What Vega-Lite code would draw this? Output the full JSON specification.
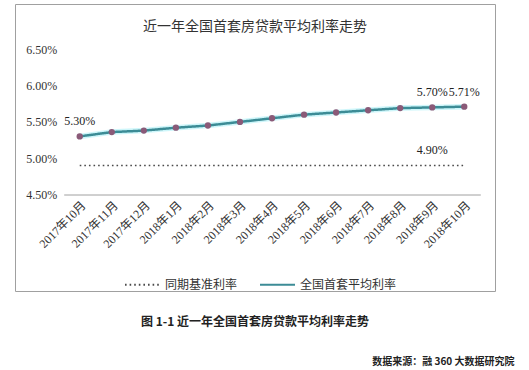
{
  "$schema": "https://vega.github.io/schema/vega-lite/v6.json",
  "background": "white",
  "padding": {"left": 14, "top": 3, "right": 0, "bottom": 0},
  "title": {"text": "数据来源：融 360 大数据研究院", "orient": "bottom", "anchor": "end", "dx": 19, "offset": 29, "font": "Noto Sans CJK SC", "fontSize": 10, "fontWeight": "bold", "color": "#222222"},
  "vconcat": [
    {
      "title": {"text": "图 1-1 近一年全国首套房贷款平均利率走势", "orient": "bottom", "anchor": "middle", "offset": 25, "font": "Noto Sans CJK SC", "fontSize": 12, "fontWeight": "bold", "color": "#222222"},
      "vconcat": [
        {
          "title": {"text": "近一年全国首套房贷款平均利率走势", "orient": "top", "anchor": "middle", "offset": -29.5, "font": "Noto Sans CJK SC", "fontSize": 14, "fontWeight": "normal", "color": "#333333"},
          "width": 480,
          "height": 287,
          "data": {"values": [
            {"month": "2017年10月", "series": "全国首套平均利率", "rate": 0.0530, "label": "5.30%"},
            {"month": "2017年11月", "series": "全国首套平均利率", "rate": 0.0536, "label": null},
            {"month": "2017年12月", "series": "全国首套平均利率", "rate": 0.0538, "label": null},
            {"month": "2018年1月", "series": "全国首套平均利率", "rate": 0.0542, "label": null},
            {"month": "2018年2月", "series": "全国首套平均利率", "rate": 0.0545, "label": null},
            {"month": "2018年3月", "series": "全国首套平均利率", "rate": 0.0550, "label": null},
            {"month": "2018年4月", "series": "全国首套平均利率", "rate": 0.0555, "label": null},
            {"month": "2018年5月", "series": "全国首套平均利率", "rate": 0.0560, "label": null},
            {"month": "2018年6月", "series": "全国首套平均利率", "rate": 0.0563, "label": null},
            {"month": "2018年7月", "series": "全国首套平均利率", "rate": 0.0566, "label": null},
            {"month": "2018年8月", "series": "全国首套平均利率", "rate": 0.0569, "label": null},
            {"month": "2018年9月", "series": "全国首套平均利率", "rate": 0.0570, "label": "5.70%"},
            {"month": "2018年10月", "series": "全国首套平均利率", "rate": 0.0571, "label": "5.71%"},
            {"month": "2017年10月", "series": "同期基准利率", "rate": 0.049, "label": null},
            {"month": "2017年11月", "series": "同期基准利率", "rate": 0.049, "label": null},
            {"month": "2017年12月", "series": "同期基准利率", "rate": 0.049, "label": null},
            {"month": "2018年1月", "series": "同期基准利率", "rate": 0.049, "label": null},
            {"month": "2018年2月", "series": "同期基准利率", "rate": 0.049, "label": null},
            {"month": "2018年3月", "series": "同期基准利率", "rate": 0.049, "label": null},
            {"month": "2018年4月", "series": "同期基准利率", "rate": 0.049, "label": null},
            {"month": "2018年5月", "series": "同期基准利率", "rate": 0.049, "label": null},
            {"month": "2018年6月", "series": "同期基准利率", "rate": 0.049, "label": null},
            {"month": "2018年7月", "series": "同期基准利率", "rate": 0.049, "label": null},
            {"month": "2018年8月", "series": "同期基准利率", "rate": 0.049, "label": null},
            {"month": "2018年9月", "series": "同期基准利率", "rate": 0.049, "label": "4.90%"},
            {"month": "2018年10月", "series": "同期基准利率", "rate": 0.049, "label": null}
          ]},
          "encoding": {
            "x": {"field": "month", "type": "ordinal", "sort": null,
                  "scale": {"type": "point", "range": [48.7, 465.3], "padding": 0.5},
                  "axis": {"title": null, "labelAngle": -45, "labelFont": "Liberation Serif, Noto Sans CJK SC", "labelFontSize": 12, "labelColor": "#333333", "ticks": false, "tickSize": 0, "labelPadding": 5, "domain": true, "domainColor": "#a0a0a0", "domainWidth": 1, "offset": -96.5, "grid": false}},
            "y": {"field": "rate", "type": "quantitative",
                  "scale": {"domain": [0.031708, 0.07124], "nice": false, "zero": false},
                  "axis": {"title": null, "values": [0.045, 0.05, 0.055, 0.06, 0.065], "format": ".2%", "labelFont": "Liberation Serif", "labelFontSize": 12, "labelColor": "#333333", "ticks": false, "tickSize": 0, "labelPadding": 7, "domain": false, "grid": false, "offset": -48.7}}
          },
          "layer": [
            {
              "transform": [{"filter": "datum.series == '同期基准利率'"}],
              "mark": {"type": "line", "strokeWidth": 1.6},
              "encoding": {
                "color": {"field": "series", "type": "nominal",
                          "scale": {"domain": ["同期基准利率", "全国首套平均利率"], "range": ["#4a4a4a", "#3c8c96"]},
                          "legend": {"title": null, "orient": "none", "legendX": 109, "legendY": 262, "direction": "horizontal", "symbolType": "stroke", "symbolSize": 1225, "symbolStrokeWidth": 2, "labelFont": "Noto Sans CJK SC", "labelFontSize": 12, "labelColor": "#333333", "columnPadding": 18, "labelOffset": 4}},
                "strokeDash": {"field": "series", "type": "nominal",
                               "scale": {"domain": ["同期基准利率", "全国首套平均利率"], "range": [[1.6, 3], [1, 0]]},
                               "legend": {"title": null, "orient": "none", "legendX": 109, "legendY": 262, "direction": "horizontal", "symbolType": "stroke", "symbolSize": 1225, "symbolStrokeWidth": 2, "labelFont": "Noto Sans CJK SC", "labelFontSize": 12, "labelColor": "#333333", "columnPadding": 18, "labelOffset": 4}}
              }
            },
            {
              "transform": [{"filter": "datum.series == '全国首套平均利率'"}],
              "mark": {"type": "line", "strokeWidth": 5.5, "color": "#aef0f6", "opacity": 0.6},
              "encoding": {}
            },
            {
              "transform": [{"filter": "datum.series == '全国首套平均利率'"}],
              "mark": {"type": "line", "strokeWidth": 2.5},
              "encoding": {
                "color": {"field": "series", "type": "nominal"},
                "strokeDash": {"field": "series", "type": "nominal"}
              }
            },
            {
              "transform": [{"filter": "datum.series == '全国首套平均利率'"}],
              "mark": {"type": "point", "shape": "circle", "filled": true, "size": 40, "color": "#8a5a78", "opacity": 1},
              "encoding": {}
            },
            {
              "transform": [{"filter": "isValid(datum.label)"}],
              "mark": {"type": "text", "dy": -15, "font": "Liberation Serif", "fontSize": 12, "color": "#222222", "baseline": "middle", "align": "center"},
              "encoding": {"text": {"field": "label", "type": "nominal"}}
            }
          ]
        }
      ]
    }
  ],
  "config": {
    "view": {"stroke": "#a0a0a0", "strokeWidth": 1},
    "concat": {"spacing": 0}
  }
}
